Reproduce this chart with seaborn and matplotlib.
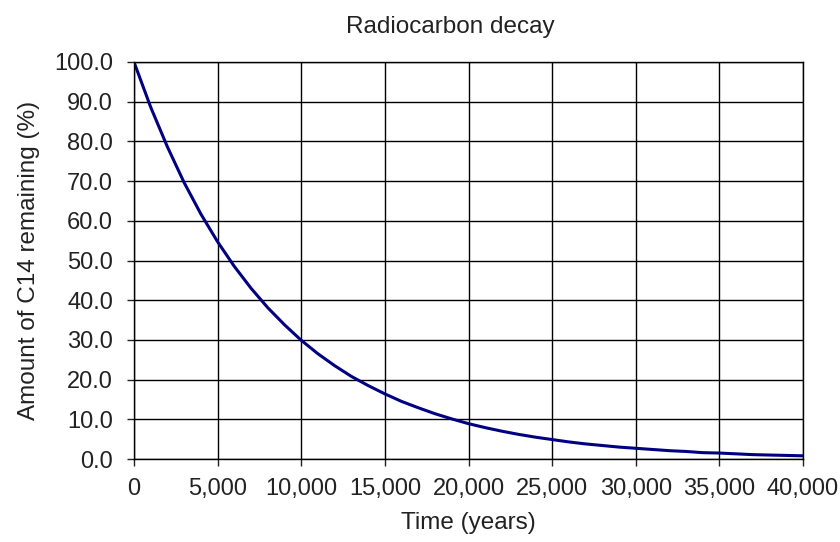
import pandas as pd
import seaborn as sns
import matplotlib
matplotlib.use("Agg")
import matplotlib.pyplot as plt
from matplotlib.ticker import FuncFormatter, MultipleLocator

# values
years = [0, 1000, 2000, 3000, 4000, 5000, 6000, 7000, 8000, 9000,
         10000, 11000, 12000, 13000, 14000, 15000, 16000, 17000, 18000, 19000,
         20000, 21000, 22000, 23000, 24000, 25000, 26000, 27000, 28000, 29000,
         30000, 31000, 32000, 33000, 34000, 35000, 36000, 37000, 38000, 39000, 40000]
remaining = [100.0, 88.6, 78.6, 69.6, 61.7, 54.7, 48.5, 43.0, 38.1, 33.8,
             29.9, 26.5, 23.5, 20.8, 18.5, 16.4, 14.5, 12.9, 11.4, 10.1,
             8.9, 7.9, 7.0, 6.2, 5.5, 4.9, 4.3, 3.8, 3.4, 3.0,
             2.7, 2.4, 2.1, 1.9, 1.6, 1.5, 1.3, 1.1, 1.0, 0.9, 0.8]

df = pd.DataFrame({"Time": years, "Remaining": remaining})

sns.set_style("ticks")
plt.rcParams['font.family'] = ['Liberation Sans', 'DejaVu Sans']

fig = plt.figure(figsize=(8.4, 5.42), dpi=100)
ax = fig.add_axes([134 / 840, 1 - 459 / 542, 669 / 840, 397 / 542])

sns.lineplot(data=df, x="Time", y="Remaining", color="#000080", linewidth=2.2, ax=ax)

ax.set_xlim(0, 40000)
ax.set_ylim(0, 100)
ax.xaxis.set_major_locator(MultipleLocator(5000))
ax.yaxis.set_major_locator(MultipleLocator(10))
ax.xaxis.set_major_formatter(FuncFormatter(lambda v, p: f"{v:,.0f}"))
ax.yaxis.set_major_formatter(FuncFormatter(lambda v, p: f"{v:.1f}"))
ax.grid(True, color="black", linewidth=1.0)
for s in ax.spines.values():
    s.set_color("black")
    s.set_linewidth(1.0)
ax.tick_params(axis="both", colors="#222222", labelsize=17, length=5, width=1)
ax.tick_params(axis="y", pad=10)
ax.tick_params(axis="x", pad=9)

ax.set_title("Radiocarbon decay", fontsize=17.5, pad=21, x=(450 - 134) / 669, color="#222222")
ax.set_xlabel("Time (years)", fontsize=17.5, labelpad=8, color="#222222")
ax.set_ylabel("Amount of C14 remaining (%)", fontsize=17.5, labelpad=10, color="#222222")

fig.savefig("out.png", dpi=100)
